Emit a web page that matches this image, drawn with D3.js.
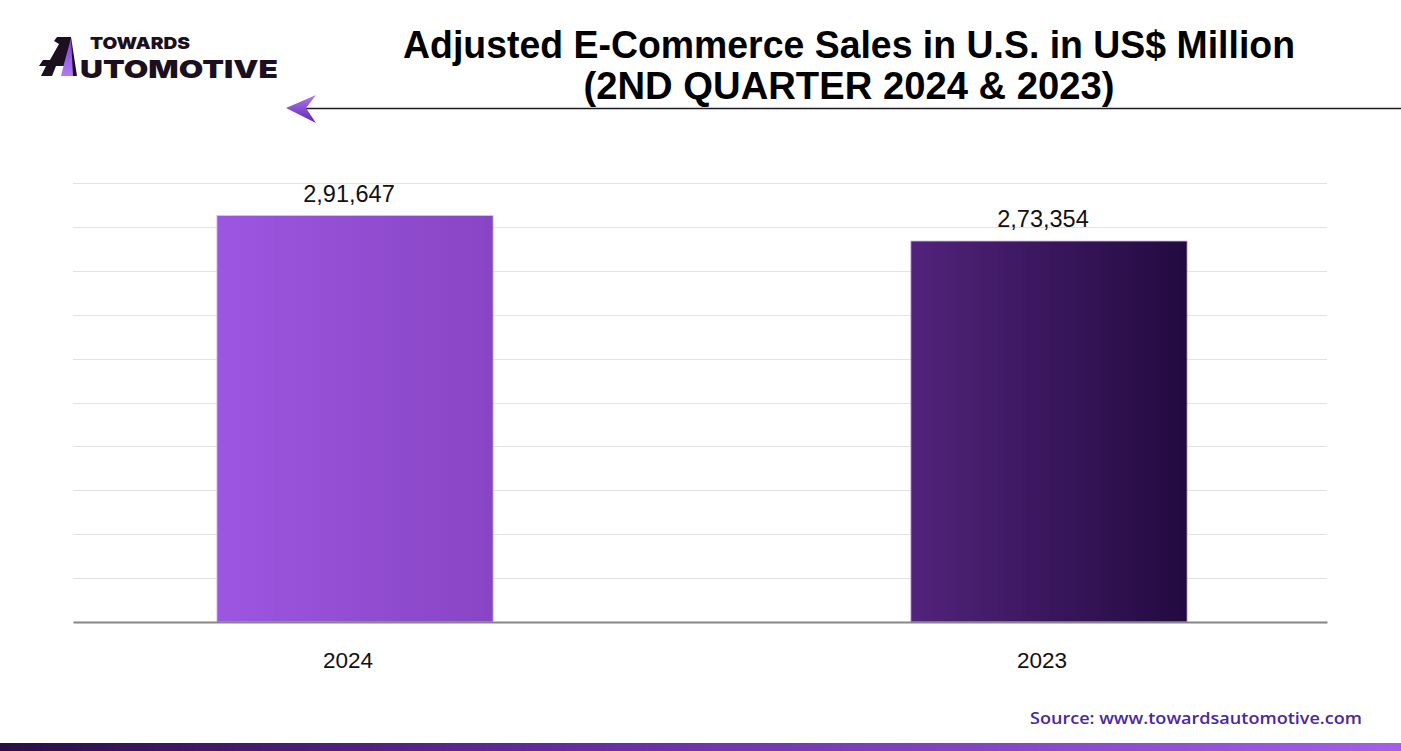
<!DOCTYPE html>
<html><head><meta charset="utf-8">
<script src="https://cdn.jsdelivr.net/npm/d3@7/dist/d3.min.js"></script>
<style>html,body{margin:0;padding:0;background:#fff;}svg{display:block;}</style>
</head><body>
<script>
const categories = ["2024", "2023"];
const values = [291647, 273354];
const valueLabels = ["2,91,647", "2,73,354"];
const yMax = 315000;
const gridCount = 10;
const titleLines = ["Adjusted E-Commerce Sales in U.S. in US$ Million", "(2ND QUARTER 2024 & 2023)"];
const sourceText = "Source: www.towardsautomotive.com";

const W = 1401, H = 751;
const svg = d3.select("body").append("svg").attr("width", W).attr("height", H);
const defs = svg.append("defs");

function lg(id, stops, x2 = "100%", y2 = "0%") {
  const g = defs.append("linearGradient").attr("id", id).attr("x1", "0%").attr("y1", "0%").attr("x2", x2).attr("y2", y2);
  stops.forEach(([o, c]) => g.append("stop").attr("offset", o).attr("stop-color", c));
}
lg("bar0", [["0%", "#9c56e1"], ["100%", "#8845c3"]]);
lg("bar1", [["0%", "#52237b"], ["100%", "#220a3f"]]);
lg("foot", [["0%", "#2a0f46"], ["45%", "#6a2fa8"], ["100%", "#a45fe3"]]);
lg("arrow", [["0%", "#b07af2"], ["100%", "#5e25b0"]], "0%", "100%");
lg("logoTri", [["0%", "#7d3fd6"], ["100%", "#b07af2"]], "0%", "100%");

const margin = {left: 73, right: 1327, top: 183, bottom: 622};
const x = d3.scaleBand().domain(categories).range([margin.left, margin.right]).paddingInner(0.602).paddingOuter(0.2045);
const y = d3.scaleLinear().domain([0, yMax]).range([margin.bottom, margin.top]);

// gridlines
const gridVals = d3.range(1, gridCount + 1).map(i => yMax * i / gridCount);
svg.append("g").selectAll("line").data(gridVals).join("line")
  .attr("x1", margin.left).attr("x2", margin.right)
  .attr("y1", d => Math.round(y(d)) + 0.5).attr("y2", d => Math.round(y(d)) + 0.5)
  .attr("stroke", "#e2e2e2").attr("stroke-width", 1);

// bars
svg.append("g").selectAll("rect").data(values).join("rect")
  .attr("x", (d, i) => x(categories[i]) + 2)
  .attr("y", d => y(d))
  .attr("width", x.bandwidth())
  .attr("height", d => y(0) - y(d))
  .attr("fill", (d, i) => `url(#bar${i})`)
  .attr("stroke", (d, i) => i === 0 ? "#d9bff5" : "#c7b0e0")
  .attr("stroke-width", 0.8);

// value labels
svg.append("g").selectAll("text").data(values).join("text")
  .attr("x", (d, i) => x(categories[i]) + x.bandwidth() / 2 - 4)
  .attr("y", d => y(d) - 14)
  .attr("text-anchor", "middle")
  .attr("font-family", "'Liberation Sans', Arial, sans-serif")
  .attr("font-size", 23.5).attr("fill", "#111")
  .text((d, i) => valueLabels[i]);

// x axis
const xAxis = d3.axisBottom(x).tickSize(0).tickPadding(30);
const ax = svg.append("g").attr("transform", `translate(0,${margin.bottom})`).call(xAxis);
ax.select(".domain").attr("stroke", "#858585").attr("stroke-width", 2);
ax.selectAll(".tick").attr("transform", d => `translate(${x(d) + x.bandwidth() / 2 - 5},0)`);
ax.selectAll(".tick text").attr("font-family", "'Liberation Sans', Arial, sans-serif")
  .attr("font-size", 22.5).attr("fill", "#111").attr("dy", "0.71em");

// title
const tg = svg.append("g");
tg.selectAll("text").data(titleLines).join("text")
  .attr("x", 849).attr("y", (d, i) => 58 + i * 41)
  .attr("text-anchor", "middle")
  .attr("font-family", "'Liberation Sans Narrow', 'Liberation Sans', Arial, sans-serif")
  .attr("font-weight", "bold").attr("font-size", 39).attr("fill", "#000")
  .attr("textLength", (d, i) => i === 0 ? 892 : 531)
  .attr("lengthAdjust", "spacingAndGlyphs")
  .text(d => d);

// header line and arrow
svg.append("line").attr("x1", 305).attr("x2", W).attr("y1", 108.5).attr("y2", 108.5)
  .attr("stroke", "#1c1a2a").attr("stroke-width", 1.6);
svg.append("path").attr("d", "M286,108 L316,95 L306,108 L316,123 Z").attr("fill", "url(#arrow)");

// logo
const logo = svg.append("g");
logo.append("path").attr("d", "M57,37 L71,37 L77,76 L66,76 L67,66 L56,66 L52,76 L41,76 L46,66 L39,66 L43,60 L50,60 L59,44 L54,41 Z").attr("fill", "#1c1020");
logo.append("path").attr("d", "M71,38 L73,76 L61,76 L64,64 Z").attr("fill", "url(#logoTri)");
logo.append("text").attr("x", 90).attr("y", 49).attr("font-family", "Inter, 'DejaVu Sans', sans-serif")
  .attr("font-weight", 900).attr("font-size", 16.5).attr("fill", "#1c1020")
  .attr("textLength", 100).attr("lengthAdjust", "spacingAndGlyphs").text("TOWARDS");
logo.append("text").attr("x", 80).attr("y", 77.5).attr("font-family", "Inter, 'DejaVu Sans', sans-serif")
  .attr("font-weight", 900).attr("font-size", 25).attr("fill", "#1c1020")
  .attr("textLength", 198).attr("lengthAdjust", "spacingAndGlyphs").text("UTOMOTIVE");

// source
svg.append("text").attr("x", 1362).attr("y", 724).attr("text-anchor", "end")
  .attr("font-family", "'Open Sans', 'Noto Sans', sans-serif").attr("font-weight", 600)
  .attr("font-size", 15.5).attr("fill", "#4a27a3")
  .attr("textLength", 332).attr("lengthAdjust", "spacingAndGlyphs")
  .text(sourceText);

// footer strip
svg.append("rect").attr("x", 0).attr("y", 743).attr("width", W).attr("height", 8).attr("fill", "url(#foot)");
</script>
</body></html>
